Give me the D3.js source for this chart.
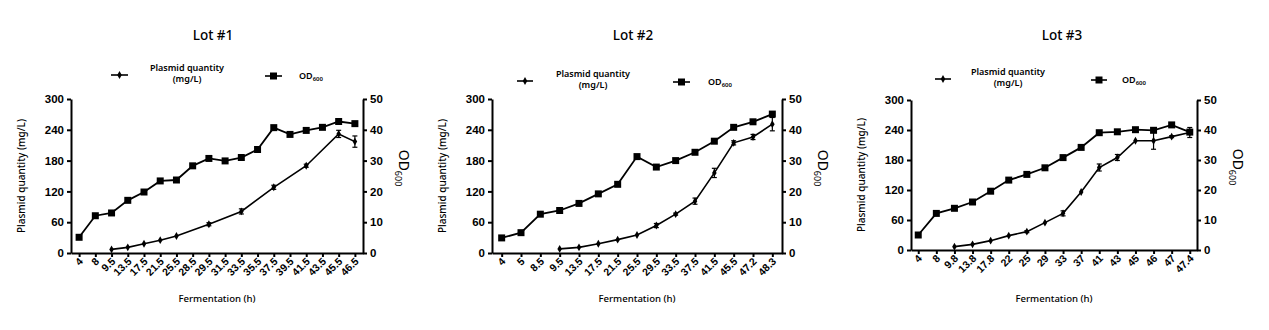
<!DOCTYPE html>
<html><head><meta charset="utf-8">
<script src="https://cdn.jsdelivr.net/npm/d3@7"></script>
<style>
body{margin:0;background:#fff;}
svg{display:block;}
</style></head>
<body>
<svg id="c" width="1269" height="330"></svg>
<script>
// ---------- DATA ----------
const titles = ["Lot #1", "Lot #2", "Lot #3"];
const yLeftTicks = [0, 60, 120, 180, 240, 300];
const yRightTicks = [0, 10, 20, 30, 40, 50];

const cats1 = ["4","8","9.5","13.5","17.5","21.5","25.5","28.5","29.5","31.5","33.5","35.5","37.5","39.5","41.5","43.5","45.5","46.5"];
const od1 = [5.1,12.1,13.0,17.1,19.8,23.4,23.7,28.3,30.7,29.9,31.0,33.6,40.7,38.5,39.8,40.8,42.7,42.0];
const plasmid1 = [null,null,7,11,18,25,33,null,56,null,81,null,128,null,170,null,232,217];
const plasmidErr1 = [0,0,1,1,1,1,1,0,3,0,5,0,4,0,3,0,7,11];

const cats2 = ["4","5","8.5","9.5","13.5","17.5","21.5","25.5","29.5","33.5","37.5","41.5","45.5","47.2","48.3"];
const od2 = [4.9,6.6,12.6,13.8,16.1,19.2,22.3,31.3,27.9,30.0,32.7,36.3,40.8,42.6,45.1];
const plasmid2 = [null,null,null,8,11,18,26,35,53.5,75.7,101,156,214.6,226,251];
const plasmidErr2 = [0,0,0,1,1,1,1,1,4,2,6,9,4,5,13];

const cats3 = ["4","8","9.8","13.8","17.8","22","25","29","33","37","41","43","45","46","47","47.4"];
const od3 = [5.0,12.2,13.9,16.0,19.6,23.3,25.2,27.4,30.8,34.2,39.1,39.4,40.1,39.9,41.7,39.3];
const plasmid3 = [null,null,6.7,11.3,18.7,28.7,36.7,54.7,73.3,116,165,185,218.5,218.5,226.7,235];
const plasmidErr3 = [0,0,1,1,1,1,2,1,5,1,7,6,1,17,2,10];

// ---------- LAYOUT ----------
const panels = [
  {cats:cats1, od:od1, pl:plasmid1, err:plasmidErr1, L:71, R:363, T:99, B:253, pad:0.5,
   titleX:213, legY:68, plSym:[111,128], plTextX:187, odSym:[265,282], odTextX:299},
  {cats:cats2, od:od2, pl:plasmid2, err:plasmidErr2, L:492, R:782, T:99, B:253, pad:0.5,
   titleX:633, legY:74, plSym:[517,533], plTextX:593, odSym:[673,690], odTextX:708},
  {cats:cats3, od:od3, pl:plasmid3, err:plasmidErr3, L:911, R:1197, T:100, B:250, pad:0.4,
   titleX:1062, legY:72, plSym:[935,951], plTextX:1008, odSym:[1091,1107], odTextX:1122}
];

const svg = d3.select("#c");
const tickFont = "'Liberation Sans', Arial, sans-serif";
const textFont = "'Noto Sans', 'Open Sans', sans-serif";

panels.forEach((p, i) => {
  const g = svg.append("g");
  const x = d3.scalePoint().domain(p.cats).range([p.L, p.R]).padding(p.pad);
  const yL = d3.scaleLinear().domain([0, 300]).range([p.B, p.T]);
  const yR = d3.scaleLinear().domain([0, 50]).range([p.B, p.T]);

  // title
  g.append("text").attr("x", p.titleX).attr("y", 40).attr("text-anchor", "middle")
    .style("font-family", textFont).style("font-size", "13.5px").style("font-weight", 500)
    .text(titles[i]);

  // legend
  const ly = p.legY;
  g.append("line").attr("x1", p.plSym[0]).attr("x2", p.plSym[1]).attr("y1", ly + 7).attr("y2", ly + 7)
    .attr("stroke", "#000").attr("stroke-width", 1.6);
  g.append("path").attr("d", d3.symbol(d3.symbolDiamond, 18)())
    .attr("transform", `translate(${(p.plSym[0] + p.plSym[1]) / 2},${ly + 7})`);
  const lt = g.append("text").attr("text-anchor", "middle")
    .style("font-family", textFont).style("font-size", "9px").style("font-weight", 600);
  lt.append("tspan").attr("x", p.plTextX).attr("y", ly + 3).text("Plasmid quantity");
  lt.append("tspan").attr("x", p.plTextX).attr("y", ly + 14).text("(mg/L)");
  g.append("line").attr("x1", p.odSym[0]).attr("x2", p.odSym[1]).attr("y1", ly + 8).attr("y2", ly + 8)
    .attr("stroke", "#000").attr("stroke-width", 1.6);
  g.append("path").attr("d", d3.symbol(d3.symbolSquare, 49)())
    .attr("transform", `translate(${(p.odSym[0] + p.odSym[1]) / 2},${ly + 8})`);
  const ot = g.append("text").attr("x", p.odTextX).attr("y", ly + 11)
    .style("font-family", textFont).style("font-size", "9px").style("font-weight", 600);
  ot.append("tspan").text("OD");
  ot.append("tspan").attr("dy", 1.5).style("font-size", "6px").text("600");

  // axes
  const axL = g.append("g").attr("transform", `translate(${p.L},0)`)
    .call(d3.axisLeft(yL).tickValues(yLeftTicks).tickSize(4).tickSizeOuter(0).tickPadding(3));
  const axR = g.append("g").attr("transform", `translate(${p.R},0)`)
    .call(d3.axisRight(yR).tickValues(yRightTicks).tickSize(4).tickSizeOuter(0).tickPadding(3));
  const axB = g.append("g").attr("transform", `translate(0,${p.B})`)
    .call(d3.axisBottom(x).tickSize(4).tickSizeOuter(0));
  [axL, axR, axB].forEach(a => {
    a.selectAll("path,line").attr("stroke", "#000").attr("stroke-width", 2);
    a.selectAll("text").attr("fill", "#000").style("font-family", tickFont)
      .style("font-weight", "bold").style("font-size", "11.5px");
  });
  axB.selectAll("text").style("font-size", "10.5px").attr("text-anchor", "end")
    .attr("dy", null).attr("y", null)
    .attr("transform", "translate(4,9) rotate(-45)");

  // axis titles
  g.append("text").attr("transform", `translate(${p.L - 46},${(p.T + p.B) / 2}) rotate(-90)`)
    .attr("text-anchor", "middle").style("font-family", textFont).style("font-size", "10px")
    .style("font-weight", 500).text("Plasmid quantity (mg/L)");
  const rt = g.append("text").attr("transform", `translate(${p.R + 36},${(p.T + p.B) / 2 - 8}) rotate(90)`)
    .attr("text-anchor", "middle").style("font-family", textFont).style("font-size", "14px");
  rt.append("tspan").text("OD");
  rt.append("tspan").attr("dy", 4).style("font-size", "9px").text("600");
  g.append("text").attr("x", (p.L + p.R) / 2).attr("y", 302).attr("text-anchor", "middle")
    .style("font-family", textFont).style("font-size", "9.6px").style("font-weight", 500)
    .text("Fermentation (h)");

  // OD series
  const odPts = p.cats.map((c, k) => ({c, v: p.od[k]}));
  g.append("path").datum(odPts).attr("fill", "none").attr("stroke", "#000").attr("stroke-width", 1.8)
    .attr("d", d3.line().x(d => x(d.c)).y(d => yR(d.v)));
  g.selectAll(null).data(odPts).enter().append("path")
    .attr("d", d3.symbol(d3.symbolSquare, 49)())
    .attr("transform", d => `translate(${x(d.c)},${yR(d.v)})`);

  // Plasmid series
  const plPts = p.cats.map((c, k) => ({c, v: p.pl[k], e: p.err[k]})).filter(d => d.v != null);
  g.append("path").datum(plPts).attr("fill", "none").attr("stroke", "#000").attr("stroke-width", 1.6)
    .attr("d", d3.line().x(d => x(d.c)).y(d => yL(d.v)));
  const eb = g.selectAll(null).data(plPts.filter(d => d.e > 1.5)).enter().append("g")
    .attr("stroke", "#000").attr("stroke-width", 1.2);
  eb.append("line").attr("x1", d => x(d.c)).attr("x2", d => x(d.c))
    .attr("y1", d => yL(d.v - d.e)).attr("y2", d => yL(d.v + d.e));
  eb.append("line").attr("x1", d => x(d.c) - 2.5).attr("x2", d => x(d.c) + 2.5)
    .attr("y1", d => yL(d.v - d.e)).attr("y2", d => yL(d.v - d.e));
  eb.append("line").attr("x1", d => x(d.c) - 2.5).attr("x2", d => x(d.c) + 2.5)
    .attr("y1", d => yL(d.v + d.e)).attr("y2", d => yL(d.v + d.e));
  g.selectAll(null).data(plPts).enter().append("path")
    .attr("d", d3.symbol(d3.symbolDiamond, 18)())
    .attr("transform", d => `translate(${x(d.c)},${yL(d.v)})`);
});
</script>
</body></html>
